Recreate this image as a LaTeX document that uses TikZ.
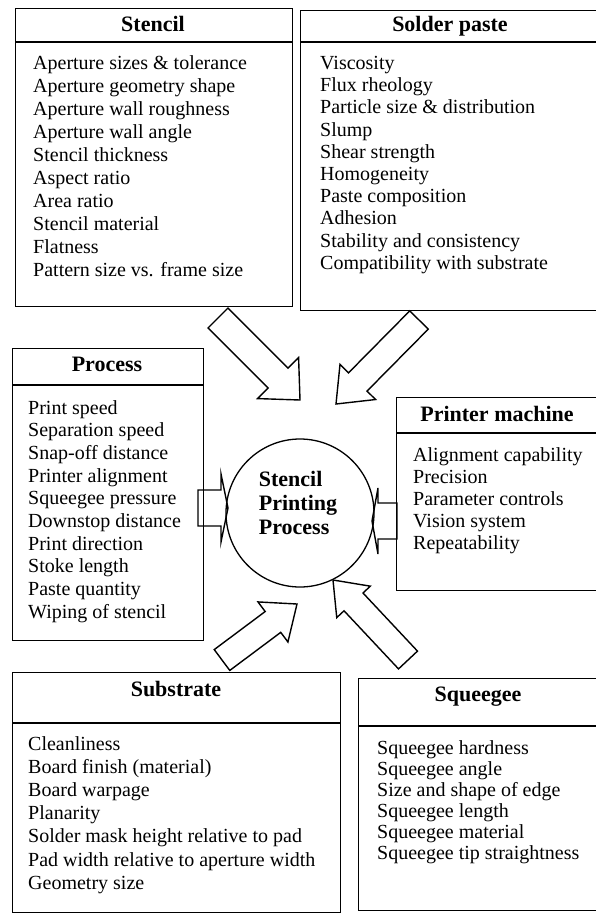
\documentclass[tikz,border=0pt]{standalone}
\usepackage{fontspec}
\setmainfont{Liberation Serif}
\usetikzlibrary{calc}
\newcommand{\boxline}{1.3pt}
\newcommand{\headline}{1.8pt}
\newcommand{\titlesize}{\fontsize{22}{24}\selectfont\bfseries}
% tail, tip, shaft half width, head half width, head length
\newcommand{\blockarrow}[5]{%
\coordinate (hb) at ($(#2)!#5!(#1)$);
\draw[line width=1.4pt, line join=miter]
 ($(#1)!#3!90:(#2)$) -- ($(hb)!#3!90:(#2)$) -- ($(hb)!#4!90:(#2)$) -- (#2)
 -- ($(hb)!#4!-90:(#2)$) -- ($(hb)!#3!-90:(#2)$) -- ($(#1)!#3!-90:(#2)$) -- cycle;}

\begin{document}
\begin{tikzpicture}[x=1pt, y=-1pt,
 box/.style={draw, line width=\boxline, anchor=north west, inner sep=0pt},
 title/.style={font=\titlesize, inner sep=0pt},
 list/.style={align=left, anchor=north west, inner sep=0pt}]
\useasboundingbox (0,0) rectangle (595,916);
%stencil
\node[box, minimum width=277pt, minimum height=298pt] (stencil) at (15,8) {};
\draw[line width=\headline] ([yshift=-34pt]stencil.north west) -- ([yshift=-34pt]stencil.north east);
\node[title] (stenciltitle) at (153,24) {Stencil};
\node[list, font=\fontsize{20}{23}\selectfont] (stencillist) at (33,55) {Aperture sizes \& tolerance\\Aperture geometry shape\\Aperture wall roughness\\Aperture wall angle\\Stencil thickness\\Aspect ratio\\Area ratio\\Stencil material\\Flatness\\Pattern size vs. frame size};
%solder paste
\node[box, minimum width=298pt, minimum height=300pt] (paste) at (300,10) {};
\draw[line width=\headline] ([yshift=-32pt]paste.north west) -- ([yshift=-32pt]paste.north east);
\node[title] (pastetitle) at (450,26) {Solder paste};
\node[list, font=\fontsize{20}{22.2}\selectfont] (pastelist) at (320,56) {Viscosity\\Flux rheology\\Particle size \& distribution\\Slump\\Shear strength\\Homogeneity\\Paste composition\\Adhesion\\Stability and consistency\\Compatibility with substrate};
%process
\node[box, minimum width=191pt, minimum height=292pt] (process) at (12,348) {};
\draw[line width=\boxline] ([yshift=-37pt]process.north west) -- ([yshift=-37pt]process.north east);
\node[title] (processtitle) at (107,364) {Process};
\node[list, font=\fontsize{20}{22.7}\selectfont] (processlist) at (28,400) {Print speed\\Separation speed\\Snap-off distance\\Printer alignment\\Squeegee pressure\\Downstop distance\\Print direction\\Stoke length\\Paste quantity\\Wiping of stencil};
%printer machine
\node[box, minimum width=202pt, minimum height=193pt] (printer) at (396,397) {};
\draw[line width=\headline] ([yshift=-36pt]printer.north west) -- ([yshift=-36pt]printer.north east);
\node[title] (printertitle) at (497,414) {Printer machine};
\node[list, font=\fontsize{20}{22}\selectfont] (printerlist) at (413,447) {Alignment capability\\Precision\\Parameter controls\\Vision system\\Repeatability};
%substrate
\node[box, minimum width=328pt, minimum height=240pt] (substrate) at (12,672) {};
\draw[line width=\headline] ([yshift=-51pt]substrate.north west) -- ([yshift=-51pt]substrate.north east);
\node[title] (substratetitle) at (176,689) {Substrate};
\node[list, font=\fontsize{20}{23.2}\selectfont] (substratelist) at (28,736) {Cleanliness\\Board finish (material)\\Board warpage\\Planarity\\Solder mask height relative to pad\\Pad width relative to aperture width\\Geometry size};
%squeegee
\node[box, minimum width=240pt, minimum height=232pt] (squeegee) at (358,678) {};
\draw[line width=\boxline] ([yshift=-48pt]squeegee.north west) -- ([yshift=-48pt]squeegee.north east);
\node[title] (squeegeetitle) at (478,697) {Squeegee};
\node[list, font=\fontsize{20}{21}\selectfont] (squeegeelist) at (377,740) {Squeegee hardness\\Squeegee angle\\Size and shape of edge\\Squeegee length\\Squeegee material\\Squeegee tip straightness};
%centre
\node[circle, draw, line width=1.3pt, minimum size=148pt, inner sep=0pt] (spp) at (300,513) {};
\node[align=left, font=\titlesize, inner sep=0pt] (spptext) at (298,503) {Stencil\\Printing\\Process};
%arrows
\coordinate (stenciltail) at (218,318);
\coordinate (stenciltip) at (300,400);
\coordinate (pastetail) at (419,320);
\coordinate (pastetip) at (336,404);
\coordinate (processtail) at (198,508);
\coordinate (processtip) at (228,508);
\coordinate (printertail) at (397,521);
\coordinate (printertip) at (372,521);
\coordinate (substratetail) at (222,660);
\coordinate (substratetip) at (297,604);
\coordinate (squeegeetail) at (408,660);
\coordinate (squeegeetip) at (333,580);
\blockarrow{stenciltail}{stenciltip}{14pt}{29pt}{31pt}
\blockarrow{pastetail}{pastetip}{13pt}{25pt}{31pt}
\blockarrow{processtail}{processtip}{18pt}{34pt}{7pt}
\blockarrow{printertail}{printertip}{18pt}{33pt}{6pt}
\blockarrow{substratetail}{substratetip}{13pt}{25pt}{30pt}
\blockarrow{squeegeetail}{squeegeetip}{13pt}{23pt}{30pt}
\end{tikzpicture}
\end{document}
